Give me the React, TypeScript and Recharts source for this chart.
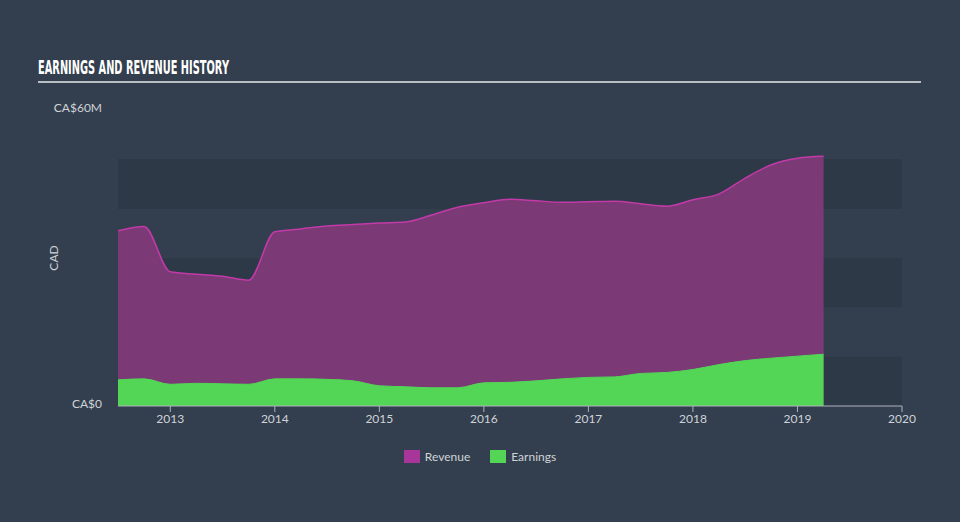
import React from 'react';
import { AreaChart, Area, XAxis, YAxis, ReferenceArea } from 'recharts';

// quarterly reporting points, as decimal years
const periods = [
  2012.5, 2012.75, 2013.0, 2013.25, 2013.5, 2013.75, 2014.0, 2014.25, 2014.5, 2014.75,
  2015.0, 2015.25, 2015.5, 2015.75, 2016.0, 2016.25, 2016.5, 2016.75, 2017.0, 2017.25,
  2017.5, 2017.75, 2018.0, 2018.25, 2018.5, 2018.75, 2019.0, 2019.25,
];

// CA$ millions
const revenue = [
  35.5, 36.4, 27.2, 26.7, 26.3, 25.5, 35.3, 35.9, 36.5, 36.8,
  37.1, 37.3, 38.7, 40.3, 41.2, 41.9, 41.6, 41.3, 41.4, 41.5,
  41.0, 40.5, 41.8, 43.0, 46.2, 48.9, 50.2, 50.6,
];

const earnings = [
  5.3, 5.5, 4.4, 4.6, 4.5, 4.4, 5.5, 5.5, 5.4, 5.1,
  4.1, 3.9, 3.7, 3.7, 4.7, 4.8, 5.1, 5.5, 5.8, 5.9,
  6.6, 6.8, 7.4, 8.4, 9.2, 9.7, 10.1, 10.5,
];

const yearTicks = [2013, 2014, 2015, 2016, 2017, 2018, 2019, 2020];
const valueTicks = [0, 60];
const darkBands = [[0, 10], [20, 30], [40, 50]];

const data = periods.map((t, i) => ({ t, Revenue: revenue[i], Earnings: earnings[i] }));

const BG = '#333f4e';
const BAND = '#2d3946';
const TEXT = '#cfd3d8';
const REV_FILL = '#7b3976';
const REV_LINE = '#c23aa8';
const EARN_FILL = '#53d655';

const legendItems = [
  { name: 'Revenue', color: '#a7359a' },
  { name: 'Earnings', color: EARN_FILL },
];

export default function App() {
  return (
    <div style={{ position: 'absolute', left: 0, top: 0, width: 960, height: 522, background: BG, fontFamily: 'Lato, sans-serif' }}>
      <AreaChart width={960} height={522} data={data} margin={{ top: 110, right: 58, bottom: 86, left: 0 }}>
        {darkBands.map(([a, b]) => (
          <ReferenceArea key={a} y1={a} y2={b} fill={BAND} fillOpacity={1} stroke="none" ifOverflow="hidden" />
        ))}
        <XAxis
          dataKey="t"
          type="number"
          domain={[2012.5, 2020]}
          ticks={yearTicks}
          allowDataOverflow
          stroke="#aeb3ba"
          tick={{ fill: TEXT, fontSize: 12 }}
          tickSize={6}
          height={30}
        />
        <YAxis
          domain={[0, 60]}
          ticks={valueTicks}
          width={118}
          axisLine={false}
          tickLine={false}
          tickMargin={10}
          tick={{ fill: TEXT, fontSize: 12, dy: -2 }}
          tickFormatter={(v: number) => (v === 0 ? 'CA$0' : `CA$${v}M`)}
        />
        <Area type="monotone" dataKey="Revenue" stroke={REV_LINE} strokeWidth={1.5} fill={REV_FILL} fillOpacity={1} isAnimationActive={false} />
        <Area type="monotone" dataKey="Earnings" stroke={EARN_FILL} strokeWidth={1} fill={EARN_FILL} fillOpacity={1} isAnimationActive={false} />
      </AreaChart>

      <svg width={960} height={522} style={{ position: 'absolute', left: 0, top: 0, pointerEvents: 'none' }}>
        <text x={38} y={74} fill="#ffffff" fontFamily="'DejaVu Sans', sans-serif" fontWeight="bold" fontSize={19} textLength={191} lengthAdjust="spacingAndGlyphs">
          EARNINGS AND REVENUE HISTORY
        </text>
        <line x1={38} y1={82} x2={921} y2={82} stroke="#b9bdc4" strokeWidth={2} />
        <text x={55} y={258} fill={TEXT} fontSize={12} textAnchor="middle" dominantBaseline="middle" transform="rotate(-90 55 258)">
          CAD
        </text>
      </svg>

      <div style={{ position: 'absolute', top: 449, left: 0, width: 960, display: 'flex', justifyContent: 'center', gap: 20, color: TEXT, fontSize: 12 }}>
        {legendItems.map((it) => (
          <div key={it.name} style={{ display: 'flex', alignItems: 'center', gap: 5 }}>
            <span style={{ width: 16, height: 13, background: it.color, display: 'inline-block' }} />
            <span>{it.name}</span>
          </div>
        ))}
      </div>
    </div>
  );
}
